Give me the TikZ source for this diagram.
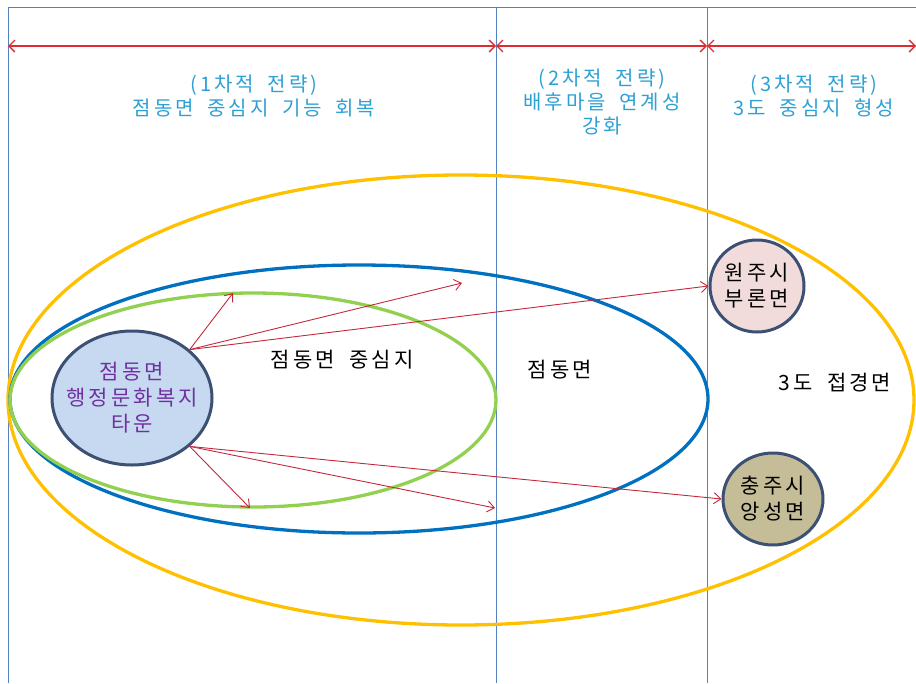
\documentclass[tikz,border=0pt]{standalone}
\usepackage{fontspec}
\setmainfont{Noto Sans CJK KR}[LetterSpace=15, WordSpace=1.8]
\usetikzlibrary{shapes,arrows.meta,positioning,calc}
\definecolor{framec}{RGB}{84,130,190}
\definecolor{spanc}{RGB}{222,45,50}
\definecolor{linkc}{RGB}{195,40,60}
\definecolor{phasec}{RGB}{45,160,212}
\definecolor{ringy}{RGB}{255,192,0}
\definecolor{ringb}{RGB}{0,112,192}
\definecolor{ringg}{RGB}{146,208,80}
\definecolor{edgec}{RGB}{60,80,115}
\definecolor{townc}{RGB}{198,217,241}
\definecolor{wonjuc}{RGB}{242,220,219}
\definecolor{chungjuc}{RGB}{196,189,151}
\definecolor{towntext}{RGB}{112,48,160}
\tikzset{
    frame/.style = {draw=framec, line width=1pt},
    span/.style = {draw=spanc, line width=1.3pt, {Straight Barb[length=6pt,width=12pt]}-{Straight Barb[length=6pt,width=12pt]}},
    link/.style = {draw=linkc, line width=0.9pt, -{Straight Barb[length=7pt,width=11pt]}},
    phase/.style = {text=phasec, align=center, font=\fontsize{20}{24}\selectfont},
    zone/.style = {font=\fontsize{21}{24}\selectfont},
    ring/.style = {line width=3.3pt},
    town/.style = {draw=edgec, ellipse, line width=3pt, align=center, inner sep=-12pt, font=\fontsize{21}{26}\selectfont},
}
\begin{document}
\begin{tikzpicture}[x=1pt, y=-1pt]
    \useasboundingbox (0,0) rectangle (916,683);
    % frame
    \draw[frame] (8,683) -- (8,7) -- (916,7);
    \draw[frame] (496,7) -- (496,683);
    \draw[frame] (707,7) -- (707,683);

    \coordinate (s0) at (8,46);
    \coordinate (s1) at (496,46);
    \coordinate (s2) at (707,46);
    \coordinate (s3) at (916,46);
    \draw[span] (s0) -- (s1);
    \draw[span] (s1) -- (s2);
    \draw[span] (s2) -- (s3);

    \node[phase] (phase1) at (254,96) {(1차적 전략)\\점동면 중심지 기능 회복};
    \node[phase] (phase2) at (602,102) {(2차적 전략)\\배후마을 연계성\\강화};
    \node[phase] (phase3) at (814,96) {(3차적 전략)\\3도 중심지 형성};

    % areas
    \draw[ring, ringy] (461,400) ellipse [x radius=453pt, y radius=225pt];
    \draw[ring, ringb] (359,399) ellipse [x radius=349pt, y radius=134pt];
    \draw[ring, ringg] (253,400) ellipse [x radius=243pt, y radius=107pt];

    \node[zone] (center) at (342,360) {점동면 중심지};
    \node[zone] (dong) at (560,370) {점동면};
    \node[zone] (border) at (835,383) {3도 접경면};

    \node[town, fill=townc, text=towntext, minimum width=160pt, minimum height=134pt] (town) at (132,398) {점동면\\행정문화복지\\타운};
    \node[town, fill=wonjuc, minimum width=94pt, minimum height=92pt] (wonju) at (757,286) {원주시\\부론면};
    \node[town, fill=chungjuc, minimum width=100pt, minimum height=92pt] (chungju) at (773,499) {충주시\\앙성면};

    \node[coordinate] (up1) at (233,293) {};
    \node[coordinate] (up2) at (462,283) {};
    \node[coordinate] (dn1) at (250,508) {};
    \node[coordinate] (dn2) at (495,508) {};

    \draw[link] (town.40) -- (up1);
    \draw[link] (town.40) -- (up2);
    \draw[link] (town.40) -- (wonju.west);
    \draw[link] (town.-40) -- (dn1);
    \draw[link] (town.-40) -- (dn2);
    \draw[link] (town.-40) -- (chungju.west);
\end{tikzpicture}
\end{document}
